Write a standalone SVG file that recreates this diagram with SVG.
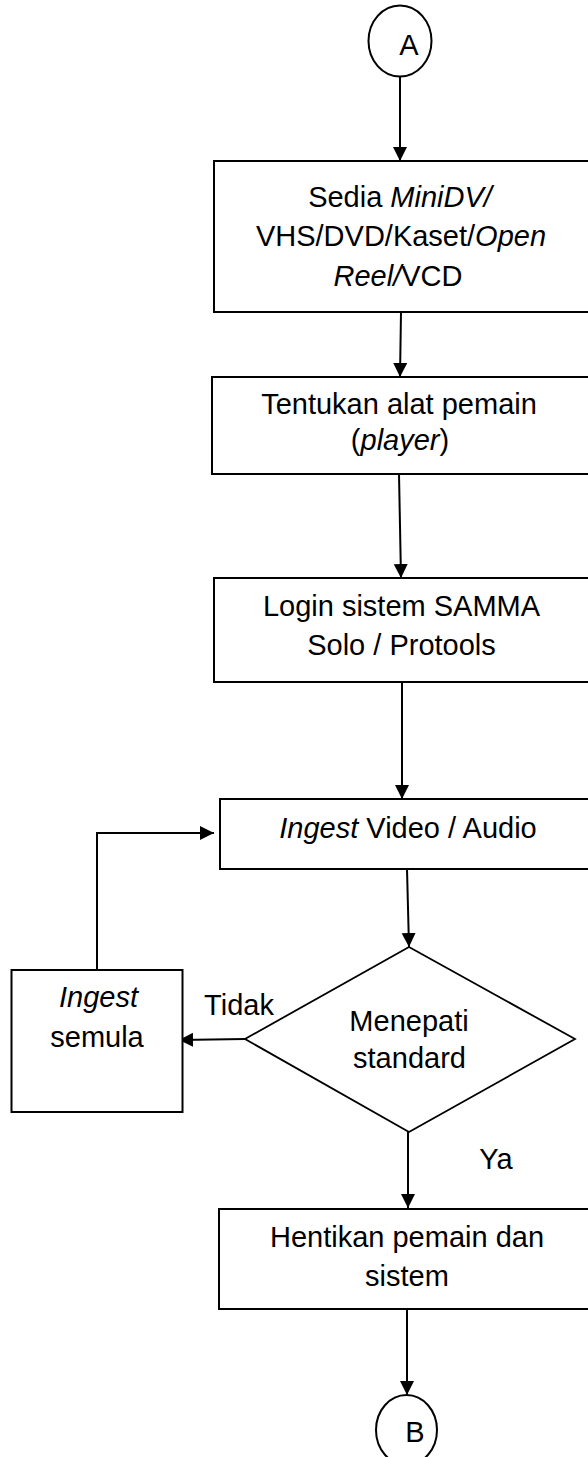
<svg xmlns="http://www.w3.org/2000/svg" width="588" height="1457" viewBox="0 0 588 1457">
<style>
.shape{fill:#fff;stroke:#000;stroke-width:2}
.conn{fill:none;stroke:#000;stroke-width:2}
text{font-family:"Liberation Sans",Arial,sans-serif;font-size:29px;fill:#000;text-anchor:middle}
.it{font-style:italic}
</style>
<defs>
<marker id="arr" markerUnits="userSpaceOnUse" markerWidth="15" markerHeight="15" refX="14" refY="7" orient="auto">
<path d="M0,0 L14,7 L0,14 z" fill="#000"/>
</marker>
</defs>
<g id="connectors">
<line class="conn" x1="400" y1="77" x2="400" y2="161" marker-end="url(#arr)"/>
<line class="conn" x1="401" y1="312" x2="400" y2="377" marker-end="url(#arr)"/>
<line class="conn" x1="399" y1="474" x2="401" y2="578" marker-end="url(#arr)"/>
<line class="conn" x1="402" y1="682" x2="402" y2="799" marker-end="url(#arr)"/>
<line class="conn" x1="407" y1="869" x2="409" y2="947" marker-end="url(#arr)"/>
<line class="conn" x1="245" y1="1039" x2="179" y2="1040" marker-end="url(#arr)"/>
<polyline class="conn" points="97,970 97,833 214,833" marker-end="url(#arr)"/>
<line class="conn" x1="408" y1="1132" x2="408" y2="1208" marker-end="url(#arr)"/>
<line class="conn" x1="407" y1="1309" x2="407" y2="1395" marker-end="url(#arr)"/>
<text x="239" y="1015">Tidak</text>
<text x="496" y="1169">Ya</text>
</g>
<g id="nodeA">
<ellipse class="shape" cx="400" cy="41" rx="31.5" ry="35.5"/>
<text x="409" y="55">A</text>
</g>
<g id="node1">
<rect class="shape" x="214" y="161" width="380" height="151"/>
<text x="400" y="207">Sedia <tspan class="it">MiniDV/</tspan></text>
<text x="401" y="246">VHS/DVD/Kaset/<tspan class="it">Open</tspan></text>
<text x="398" y="286"><tspan class="it">Reel/</tspan>VCD</text>
</g>
<g id="node2">
<rect class="shape" x="212" y="377" width="382" height="97"/>
<text x="399" y="414">Tentukan alat pemain</text>
<text x="400" y="450">(<tspan class="it">player</tspan>)</text>
</g>
<g id="node3">
<rect class="shape" x="214" y="578" width="380" height="104"/>
<text x="401.5" y="616">Login sistem SAMMA</text>
<text x="401.5" y="655">Solo / Protools</text>
</g>
<g id="node4">
<rect class="shape" x="220" y="799" width="374" height="70"/>
<text x="408" y="838"><tspan class="it">Ingest</tspan> Video / Audio</text>
</g>
<g id="decision">
<polygon class="shape" points="409,947 575,1039 409,1132 245,1039" style="stroke-width:1.8"/>
<text x="409" y="1031">Menepati</text>
<text x="409.5" y="1068">standard</text>
</g>
<g id="nodeRetry">
<rect class="shape" x="11.5" y="970" width="171" height="142"/>
<text x="98.5" y="1007" class="it">Ingest</text>
<text x="97" y="1047">semula</text>
</g>
<g id="node5">
<rect class="shape" x="219" y="1209" width="375" height="100"/>
<text x="407" y="1247">Hentikan pemain dan</text>
<text x="407" y="1286">sistem</text>
</g>
<g id="nodeB">
<ellipse class="shape" cx="406.5" cy="1430" rx="30.5" ry="35"/>
<text x="415" y="1442">B</text>
</g>
</svg>
